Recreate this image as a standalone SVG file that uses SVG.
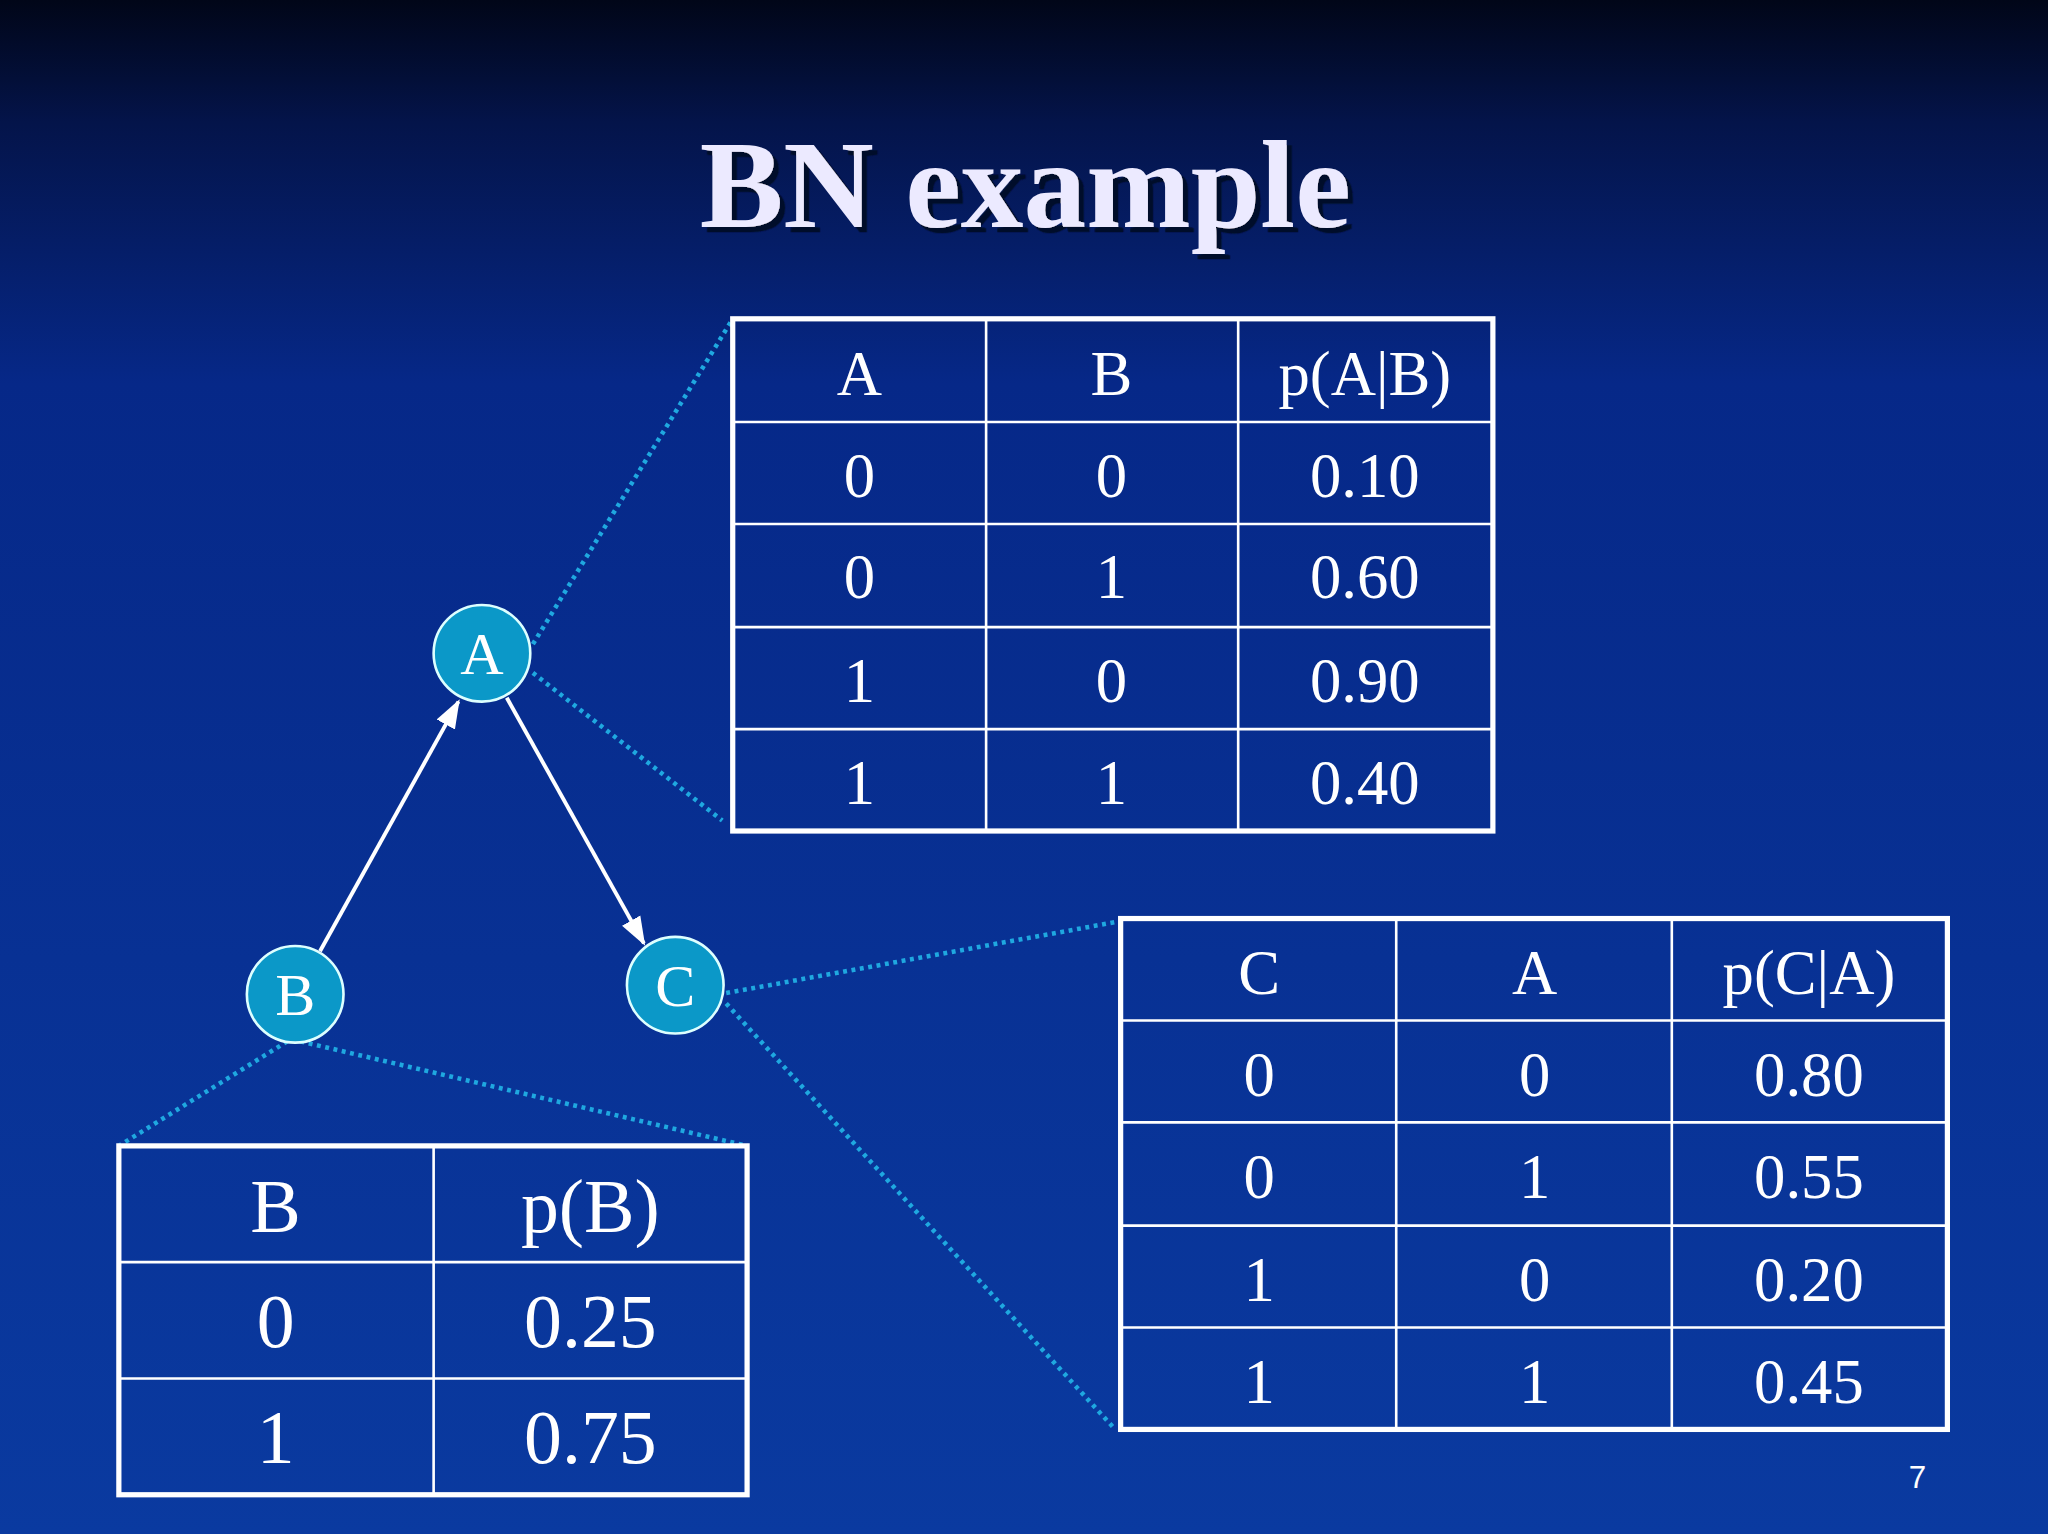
<svg xmlns="http://www.w3.org/2000/svg" width="2048" height="1534" viewBox="0 0 2048 1534">
<defs>
<linearGradient id="bg" x1="0" y1="0" x2="0" y2="1">
<stop offset="0" stop-color="#010618"/><stop offset="0.08" stop-color="#04144a"/><stop offset="0.25" stop-color="#062888"/><stop offset="1" stop-color="#0a3aa0"/>
</linearGradient>
<filter id="sh" x="-10%" y="-20%" width="120%" height="140%">
<feDropShadow dx="4" dy="4" stdDeviation="0.5" flood-color="#00082a" flood-opacity="1"/>
</filter>
<marker id="ah" markerWidth="22" markerHeight="22" refX="20" refY="8" orient="auto" markerUnits="userSpaceOnUse" viewBox="0 0 22 16">
<path d="M0,0 L22,8 L0,16 z" fill="#fff"/></marker>
<style>
.t{font-family:"Liberation Serif",serif;fill:#fff;text-anchor:middle}
.g{fill:none;stroke:#fff;stroke-width:2}
.o{fill:none;stroke:#fff;stroke-width:4}
.d{stroke:#1fa8e0;stroke-width:3.5;stroke-dasharray:3 3.5;fill:none}
.n{fill:#0b98c8;stroke:#dff;stroke-width:2}
</style>
</defs>
<rect width="2048" height="1534" fill="url(#bg)"/>
<g transform="scale(1.3061 1.3066)">
<text x="785" y="174" class="t" font-size="96" font-weight="bold" style="fill:#eceaff" filter="url(#sh)">BN example</text>
<g id="connectors">
<line x1="245" y1="728" x2="351" y2="537" stroke="#fff" stroke-width="3" marker-end="url(#ah)"/>
<line x1="388" y1="534" x2="493" y2="722" stroke="#fff" stroke-width="3" marker-end="url(#ah)"/>
<line class="d" x1="408" y1="493" x2="561" y2="244"/>
<line class="d" x1="408" y1="515" x2="553" y2="628"/>
<line class="d" x1="556" y1="760" x2="858" y2="705"/>
<line class="d" x1="556" y1="768" x2="852" y2="1092"/>
<line class="d" x1="220" y1="797" x2="91" y2="877"/>
<line class="d" x1="230" y1="797" x2="572" y2="877"/>
</g>
<g id="nodeA"><circle class="n" cx="369" cy="500" r="37"/><text class="t" x="369" y="516" font-size="46">A</text></g>
<g id="nodeB"><circle class="n" cx="226" cy="761" r="37"/><text class="t" x="226" y="777" font-size="46">B</text></g>
<g id="nodeC"><circle class="n" cx="517" cy="754" r="37"/><text class="t" x="517" y="770" font-size="46">C</text></g>
<g id="tableA" font-size="48">
<rect class="o" x="561" y="244" width="582" height="392"/>
<path class="g" d="M755,244V636M948,244V636M561,323H1143M561,401H1143M561,480H1143M561,558H1143"/>
<g class="t"><text x="658" y="302">A</text><text x="851" y="302">B</text><text x="1045" y="302">p(A|B)</text>
<text x="658" y="380">0</text><text x="851" y="380">0</text><text x="1045" y="380">0.10</text>
<text x="658" y="458">0</text><text x="851" y="458">1</text><text x="1045" y="458">0.60</text>
<text x="658" y="537">1</text><text x="851" y="537">0</text><text x="1045" y="537">0.90</text>
<text x="658" y="615">1</text><text x="851" y="615">1</text><text x="1045" y="615">0.40</text></g>
</g>
<g id="tableC" font-size="48">
<rect class="o" x="858" y="703" width="633" height="391"/>
<path class="g" d="M1069,703V1094M1280,703V1094M858,781H1491M858,859H1491M858,938H1491M858,1016H1491"/>
<g class="t"><text x="964" y="761">C</text><text x="1175" y="761">A</text><text x="1385" y="761">p(C|A)</text>
<text x="964" y="839">0</text><text x="1175" y="839">0</text><text x="1385" y="839">0.80</text>
<text x="964" y="917">0</text><text x="1175" y="917">1</text><text x="1385" y="917">0.55</text>
<text x="964" y="996">1</text><text x="1175" y="996">0</text><text x="1385" y="996">0.20</text>
<text x="964" y="1074">1</text><text x="1175" y="1074">1</text><text x="1385" y="1074">0.45</text></g>
</g>
<g id="tableB" font-size="58">
<rect class="o" x="91" y="877" width="481" height="267"/>
<path class="g" d="M332,877V1144M91,966H572M91,1055H572"/>
<g class="t"><text x="211" y="943">B</text><text x="452" y="943">p(B)</text>
<text x="211" y="1031">0</text><text x="452" y="1031">0.25</text>
<text x="211" y="1120">1</text><text x="452" y="1120">0.75</text></g>
</g>
<text x="1468" y="1139" font-family="Liberation Sans,sans-serif" font-size="24" fill="#fff" text-anchor="middle">7</text>
</g>
</svg>
